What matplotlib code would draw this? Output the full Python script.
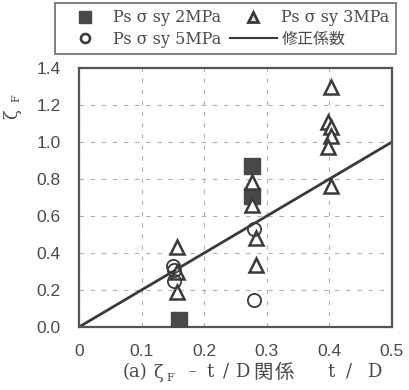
import matplotlib
matplotlib.use("Agg")
import matplotlib.pyplot as plt
from matplotlib.lines import Line2D

# data
sq_x = [0.16, 0.277, 0.277]
sq_y = [0.04, 0.87, 0.71]
tri_x = [0.156, 0.156, 0.156, 0.276, 0.276, 0.283, 0.283, 0.403, 0.397, 0.403, 0.403, 0.397, 0.403]
tri_y = [0.43, 0.30, 0.19, 0.785, 0.66, 0.48, 0.335, 1.30, 1.11, 1.08, 1.03, 0.975, 0.76]
cir_x = [0.150, 0.152, 0.152, 0.28, 0.28]
cir_y = [0.33, 0.31, 0.25, 0.53, 0.146]
line_x = [0.0, 0.5]
line_y = [0.0, 1.0]
xticks = [0, 0.1, 0.2, 0.3, 0.4, 0.5]
xticklabels = ["0", "0.1", "0.2", "0.3", "0.4", "0.5"]
yticks = [0.0, 0.2, 0.4, 0.6, 0.8, 1.0, 1.2, 1.4]
yticklabels = ["0.0", "0.2", "0.4", "0.6", "0.8", "1.0", "1.2", "1.4"]
legend_labels = ["Ps σ sy 2MPa", "Ps σ sy 5MPa", "Ps σ sy 3MPa", "修正係数"]

serif = ["DejaVu Serif", "Noto Sans CJK JP"]
sans = ["Liberation Sans", "DejaVu Sans"]
txtc = "#4a4a4a"
dark = "#3a3a3a"

W, H = 409, 390
fig = plt.figure(figsize=(W / 100, H / 100), dpi=100)
ax = fig.add_axes([79 / W, 1 - 327 / H, (392 - 79) / W, (327 - 68) / H])

ax.plot(line_x, line_y, color=dark, lw=2.0, zorder=2)
ax.plot(sq_x, sq_y, ls="none", marker="s", ms=11, mfc="#484848", mec="#484848", zorder=3)
ax.plot(tri_x, tri_y, ls="none", marker="^", ms=10, mfc="white", mec=dark, mew=1.8, zorder=4)
ax.plot(cir_x, cir_y, ls="none", marker="o", ms=9.5, mfc="none", mec=dark, mew=1.3, zorder=4)

ax.set_xlim(0, 0.5)
ax.set_ylim(0, 1.4)
ax.set_xticks(xticks)
ax.set_xticklabels(xticklabels, family=sans, fontsize=12.5, color=txtc)
ax.set_yticks(yticks)
ax.set_yticklabels(yticklabels, family=sans, fontsize=12.5, color=txtc)
ax.tick_params(axis="x", length=0, pad=12)
ax.tick_params(axis="y", length=0, pad=13)
ax.grid(True, ls=(0, (4, 6)), color="#b0b0b0", lw=0.8)
for s in ax.spines.values():
    s.set_color("#555555")
    s.set_linewidth(1.6)

# x label, laid out glyph by glyph to mimic the wide spacing
def ftext(px, py, s, size=13, fam=serif, **kw):
    fig.text(px / W, 1 - py / H, s, family=fam, fontsize=size, color=txtc,
             ha=kw.pop("ha", "center"), va=kw.pop("va", "center"), **kw)

ftext(123, 372, "(a)", ha="left")
ftext(158, 373, "ζ")
ftext(170, 378, "F", size=8)
ftext(192, 371, "–", size=11)
for ch, px in [("t", 210), ("/", 226), ("D", 242)]:
    ftext(px, 372, ch)
for ch, px in [("関", 263), ("係", 284)]:
    ftext(px, 372, ch, size=14, fam=["Noto Sans CJK JP"])
for ch, px in [("t", 331), ("/", 349), ("D", 374)]:
    ftext(px, 372, ch)

# y label
ftext(12, 114, "ζ", size=13, rotation=90)
ftext(16, 98, "F", size=8, rotation=90)

handles = [
    Line2D([], [], ls="none", marker="s", ms=8, mfc="#484848", mec="#484848"),
    Line2D([], [], ls="none", marker="o", ms=6.5, mfc="none", mec=dark, mew=1.9),
    Line2D([], [], ls="none", marker="^", ms=7, mfc="#e0e0e0", mec=dark, mew=2.0),
    Line2D([], [], color=dark, lw=1.5),
]
leg = fig.legend(handles, legend_labels, ncol=2, loc="upper left",
                 bbox_to_anchor=(55 / W, 1 - 3 / H),
                 prop={"family": serif, "size": 11.5}, frameon=True, fancybox=False,
                 edgecolor="#555555", handlelength=3.0, handletextpad=0.25,
                 borderpad=0.4, labelspacing=0.28, columnspacing=0.5,
                 borderaxespad=0)
for t in leg.get_texts():
    t.set_color(txtc)
leg.get_frame().set_linewidth(1.3)

fig.savefig("out.png", dpi=100)
